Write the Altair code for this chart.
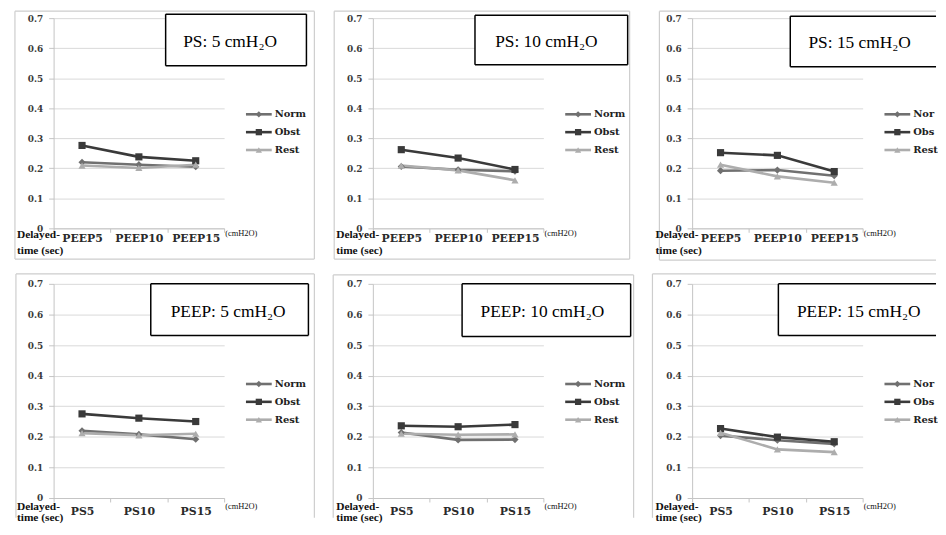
import altair as alt
import pandas as pd

# ---------------- data ----------------
SERIES = ["Norm", "Obst", "Rest"]
PEEP_LEVELS = ["PEEP5", "PEEP10", "PEEP15"]
PS_LEVELS = ["PS5", "PS10", "PS15"]
PANEL_TITLES = ["PS: 5 cmH₂O", "PS: 10 cmH₂O", "PS: 15 cmH₂O",
                "PEEP: 5 cmH₂O", "PEEP: 10 cmH₂O", "PEEP: 15 cmH₂O"]
Y_TICKS = [0, 0.1, 0.2, 0.3, 0.4, 0.5, 0.6, 0.7]

# delayed time (sec)
PS5_NORM = [0.220, 0.212, 0.205]
PS5_OBST = [0.276, 0.238, 0.225]
PS5_REST = [0.209, 0.201, 0.212]

PS10_NORM = [0.206, 0.195, 0.190]
PS10_OBST = [0.262, 0.234, 0.196]
PS10_REST = [0.209, 0.193, 0.160]

PS15_NORM = [0.192, 0.194, 0.175]
PS15_OBST = [0.252, 0.243, 0.189]
PS15_REST = [0.212, 0.173, 0.152]

PEEP5_NORM = [0.220, 0.208, 0.192]
PEEP5_OBST = [0.275, 0.261, 0.250]
PEEP5_REST = [0.212, 0.205, 0.210]

PEEP10_NORM = [0.214, 0.190, 0.191]
PEEP10_OBST = [0.236, 0.233, 0.240]
PEEP10_REST = [0.210, 0.207, 0.208]

PEEP15_NORM = [0.204, 0.189, 0.177]
PEEP15_OBST = [0.227, 0.199, 0.184]
PEEP15_REST = [0.213, 0.159, 0.150]

# ---------------- styling ----------------
SERIF = "Liberation Serif, DejaVu Serif, serif"
BOLD_SERIF = "DejaVu Serif, Liberation Serif, serif"
AXIS_GRAY = "#c4c4c4"
GRID_GRAY = "#d9d9d9"
BORDER_GRAY = "#cdcdcd"
COLOR_SCALE = alt.Scale(domain=SERIES, range=["#707070", "#3a3a3a", "#adadad"])
SHAPE_SCALE = alt.Scale(domain=SERIES, range=["diamond", "square", "triangle-up"])

ONE = pd.DataFrame({"k": [0]})


def hrule(x0, x1, y, stroke, sw):
    return alt.Chart(ONE).mark_rule(stroke=stroke, strokeWidth=sw).encode(
        x=alt.value(x0), x2=alt.value(x1), y=alt.value(y))


def vrule(x, y0, y1, stroke, sw):
    return alt.Chart(ONE).mark_rule(stroke=stroke, strokeWidth=sw).encode(
        x=alt.value(x), y=alt.value(y0), y2=alt.value(y1))


def panel(title, levels, norm, obst, rest, width, height, box, text_cx,
          label_pad, notes_dy, frame, clipped, legend_y0):
    df = pd.DataFrame({
        "setting": levels * 3,
        "series": [s for s in SERIES for _ in levels],
        "value": norm + obst + rest,
    })
    x = alt.X("setting:N", sort=levels,
              scale=alt.Scale(type="band", domain=levels, paddingInner=0, paddingOuter=0),
              axis=alt.Axis(title=None, labelAngle=0, tickBand="extent", grid=False,
                            labelFont=BOLD_SERIF, labelFontSize=11, labelFontWeight="bold",
                            labelColor="#2a2a2a", labelPadding=label_pad,
                            domainColor=AXIS_GRAY, tickColor=AXIS_GRAY, tickSize=4))
    y = alt.Y("value:Q", scale=alt.Scale(domain=[0, 0.7], nice=False, zero=True),
              axis=alt.Axis(title=None, values=Y_TICKS, format=".1~f", grid=True,
                            gridColor=GRID_GRAY, gridWidth=1,
                            labelFont=BOLD_SERIF, labelFontSize=9, labelFontWeight="bold",
                            labelColor="#3a3a3a", labelPadding=6,
                            domainColor=AXIS_GRAY, tickColor=AXIS_GRAY, tickSize=5))
    color = alt.Color("series:N", scale=COLOR_SCALE, legend=None)
    shape = alt.Shape("series:N", scale=SHAPE_SCALE, legend=None)

    layers = []
    # panel frame (light gray); sides cut off by the picture edge are left out
    fl, fr, ft, fb, has_right, has_bottom = frame
    layers.append(hrule(fl, fr, ft, BORDER_GRAY, 1.2))
    layers.append(vrule(fl, ft, fb, BORDER_GRAY, 1.2))
    if has_right:
        layers.append(vrule(fr, ft, fb, BORDER_GRAY, 1.2))
    if has_bottom:
        layers.append(hrule(fl, fr, fb, BORDER_GRAY, 1.2))

    base = alt.Chart(df)
    layers.append(base.mark_line(strokeWidth=2.6).encode(x=x, y=y, color=color))
    layers.append(base.mark_point(filled=True, opacity=1, size=52).encode(
        x=x, y=y, color=color, shape=shape))

    # title box
    bx0, bx1, by0, by1 = box
    layers.append(alt.Chart(ONE).mark_rect(fill="white").encode(
        x=alt.value(bx0), x2=alt.value(bx1), y=alt.value(by0), y2=alt.value(by1)))
    layers.append(hrule(bx0, bx1, by0, "black", 1.5))
    layers.append(hrule(bx0, bx1, by1, "black", 1.5))
    layers.append(vrule(bx0, by0, by1, "black", 1.5))
    if not clipped:
        layers.append(vrule(bx1, by0, by1, "black", 1.5))
    layers.append(alt.Chart(pd.DataFrame({"t": [title]})).mark_text(
        font=SERIF, fontSize=17.5, align="center", baseline="middle", color="black").encode(
        x=alt.value(text_cx), y=alt.value((by0 + by1) / 2 + 2), text="t:N"))

    # legend
    text_props = dict(font=BOLD_SERIF, fontSize=10, fontWeight="bold", align="left",
                      baseline="middle", color="#222")
    if clipped:
        text_props.update(limit=25, ellipsis=" ")
    for i, s in enumerate(SERIES):
        sd = pd.DataFrame({"series": [s]})
        ly = legend_y0 + 18 * i
        layers.append(alt.Chart(sd).mark_rule(strokeWidth=2.6).encode(
            x=alt.value(width + 22), x2=alt.value(width + 48), y=alt.value(ly), color=color))
        layers.append(alt.Chart(sd).mark_point(filled=True, opacity=1, size=40).encode(
            x=alt.value(width + 35), y=alt.value(ly), color=color, shape=shape))
        layers.append(alt.Chart(sd).mark_text(**text_props).encode(
            x=alt.value(width + 51), y=alt.value(ly), text="series:N"))

    # axis annotations
    d1, d2, d3 = notes_dy
    note_props = dict(font=SERIF, fontSize=11.5, fontWeight="bold", align="left",
                      baseline="middle", color="#111")
    layers.append(alt.Chart(pd.DataFrame({"t": ["Delayed-"]})).mark_text(**note_props).encode(
        x=alt.value(-37), y=alt.value(height + d1), text="t:N"))
    layers.append(alt.Chart(pd.DataFrame({"t": ["time (sec)"]})).mark_text(**note_props).encode(
        x=alt.value(-37), y=alt.value(height + d2), text="t:N"))
    layers.append(alt.Chart(pd.DataFrame({"t": ["(cmH2O)"]})).mark_text(
        font=SERIF, fontSize=8.5, align="left", baseline="middle", color="#111").encode(
        x=alt.value(width + 1), y=alt.value(height + d3), text="t:N"))

    return alt.layer(*layers).properties(width=width, height=height)


W = 172
H1, H2 = 212, 216
TOP_NOTES = (7, 23, 5)
BOT_NOTES = (9, 20, 8)
p1 = panel(PANEL_TITLES[0], PEEP_LEVELS, PS5_NORM, PS5_OBST, PS5_REST, W, H1,
           (113, 255, -4, 48), 178, 0, TOP_NOTES, (-39, 263, -7, 243, True, True), False, 97)
p2 = panel(PANEL_TITLES[1], PEEP_LEVELS, PS10_NORM, PS10_OBST, PS10_REST, W, H1,
           (103, 257, -3, 47), 175, 0, TOP_NOTES, (-39, 259, -7, 243, True, True), False, 97)
p3 = panel(PANEL_TITLES[2], PEEP_LEVELS, PS15_NORM, PS15_OBST, PS15_REST, W, H1,
           (99, 246, -2, 49), 169, 0, TOP_NOTES, (-33, 246, -7, 244, False, True), True, 97)
p4 = panel(PANEL_TITLES[3], PS_LEVELS, PEEP5_NORM, PEEP5_OBST, PEEP5_REST, W, H2,
           (98, 257, 0, 52), 176, 4, BOT_NOTES, (-38, 263, -10, 236, True, False), False, 101)
p5 = panel(PANEL_TITLES[4], PS_LEVELS, PEEP10_NORM, PEEP10_OBST, PEEP10_REST, W, H2,
           (90, 260, 0, 53), 171, 4, BOT_NOTES, (-40, 263, -9, 236, True, False), False, 101)
p6 = panel(PANEL_TITLES[5], PS_LEVELS, PEEP15_NORM, PEEP15_OBST, PEEP15_REST, W, H2,
           (87, 246, 0, 52), 168, 4, BOT_NOTES, (-40, 246, -10, 236, False, False), True, 101)

chart = alt.concat(p1, p2, p3, p4, p5, p6, columns=3,
                   spacing={"row": 56, "column": 150}, bounds="flush").properties(
    padding={"left": 6, "top": 0, "right": 0, "bottom": 0}, background="white"
).configure_view(strokeWidth=0)

chart.save("out.html", embed_options={"renderer": "svg", "actions": False})
